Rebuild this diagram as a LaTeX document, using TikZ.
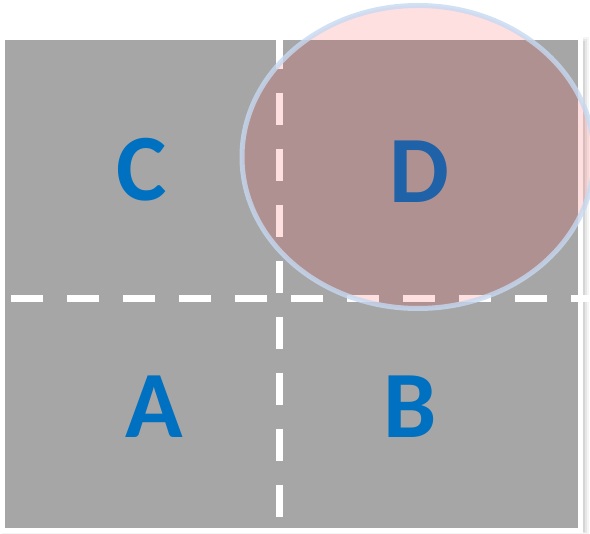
\documentclass[tikz,border=0pt]{standalone}
\usepackage{fontspec}
\setmainfont{Carlito}
\definecolor{panelgray}{HTML}{A6A6A6}
\definecolor{letterblue}{HTML}{0070C0}
\definecolor{ringblue}{HTML}{C6D9F1}
\tikzset{
  quadlabel/.style={text=letterblue, inner sep=0pt, font=\fontsize{95}{100}\selectfont\bfseries},
  divider/.style={draw=white, line width=7pt, dash pattern=on 32pt off 24pt},
  overlay/.style={fill=red, fill opacity=0.12, draw=ringblue, draw opacity=0.8, line width=5pt},
}
\begin{document}
\begin{tikzpicture}[x=1pt,y=-1pt]
\useasboundingbox (0,0) rectangle (590,534);
% soft shadow
\fill[black, opacity=0.04] (2,37) rectangle (589,534);
\fill[black, opacity=0.06] (4,39) rectangle (587,533);
\fill[black, opacity=0.08] (6,41) rectangle (585,532);
% panel with white border
\draw[white, line width=5pt] (2.5,37.5) rectangle (580.5,530.5);
\fill[panelgray] (5,40) rectangle (578,528);
% dashed dividers
\coordinate (vt) at (279.5,37);
\coordinate (vb) at (279.5,528);
\coordinate (hl) at (11,299);
\coordinate (hr) at (590,299);
\draw[divider] (vt) -- (vb);
\draw[divider] (hl) -- (hr);
% labels
\node[quadlabel] (C) at (142,170) {C};
\node[quadlabel] (D) at (419,172) {D};
\node[quadlabel] (A) at (154,407) {A};
\node[quadlabel] (B) at (410,407) {B};
% highlight ellipse
\path[overlay] (418,157) ellipse [x radius=176, y radius=151.5];
\end{tikzpicture}
\end{document}
